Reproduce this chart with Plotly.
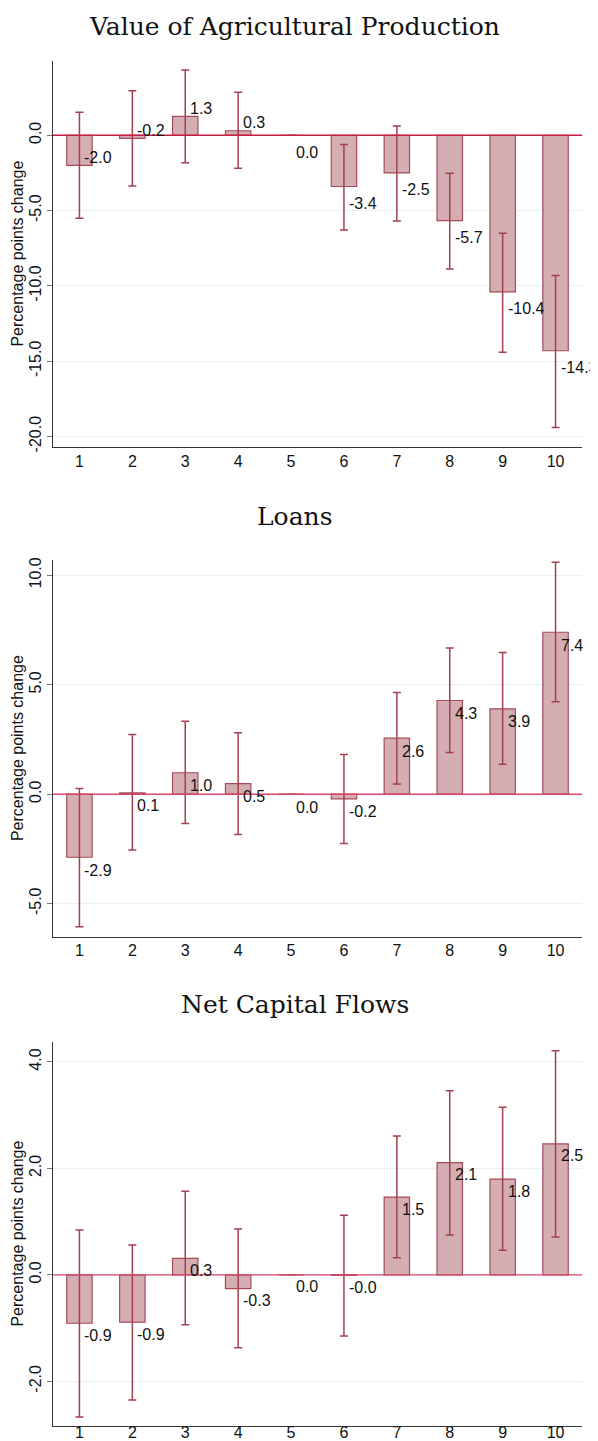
import plotly.graph_objects as go

# ---------------- data ----------------
categories = [1, 2, 3, 4, 5, 6, 7, 8, 9, 10]

agri_values = [-2.0, -0.2, 1.26, 0.3, 0.0, -3.4, -2.5, -5.66, -10.4, -14.3]
agri_lo = [-5.5, -3.36, -1.82, -2.19, None, -6.28, -5.69, -8.87, -14.4, -19.4]
agri_hi = [1.53, 2.96, 4.33, 2.85, None, -0.62, 0.62, -2.52, -6.5, -9.31]

loans_values = [-2.88, 0.06, 0.98, 0.48, 0.0, -0.21, 2.56, 4.28, 3.9, 7.4]
loans_lo = [-6.06, -2.55, -1.34, -1.84, None, -2.25, 0.47, 1.91, 1.37, 4.22]
loans_hi = [0.26, 2.73, 3.33, 2.81, None, 1.81, 4.65, 6.68, 6.47, 10.6]

ncf_values = [-0.91, -0.89, 0.31, -0.26, 0.0, -0.01, 1.46, 2.11, 1.8, 2.46]
ncf_lo = [-2.67, -2.35, -0.94, -1.37, None, -1.15, 0.32, 0.75, 0.46, 0.71]
ncf_hi = [0.84, 0.56, 1.57, 0.86, None, 1.12, 2.61, 3.46, 3.15, 4.21]

agri_ticks = [-20, -15, -10, -5, 0]
loans_ticks = [-5, 0, 5, 10]
ncf_ticks = [-2, 0, 2, 4]

titles = ["Value of Agricultural Production", "Loans", "Net Capital Flows"]
y_title = "Percentage points change"

# ---------------- layout / style ----------------
OFF = 8  # page body margin
W, H = 598 - OFF, 1441 - OFF
PL, PR, PT, PB = 53.3, 582.3, 61, 1426  # plot extents in page pixels
ML, MR, MT, MB = PL - OFF, W - (PR - OFF), PT - OFF, H - (PB - OFF)
plot_h = H - MT - MB
plot_w = W - ML - MR


def py(px):
    return (H - MB - (px - OFF)) / plot_h


def pxx(px):
    return ((px - OFF) - ML) / plot_w


BAR_FILL = "#d4aeb2"
BAR_LINE = "#a54b57"
ERR_COLOR = "#a3404e"
GRID = "#e9eff1"
AXIS = "#333333"
SANS = "Liberation Sans"
SERIF = "DejaVu Serif"

panels = [
    dict(title=titles[0], v=agri_values, lo=agri_lo, hi=agri_hi, ticks=agri_ticks,
         yr=[-20.67, 4.93], top=61, bot=446.7, tpx=26, zc="#c81d42", xstand=0,
         shifts=[8, 8, 8, 8, -17, -17, -17, -17, -17, -17]),
    dict(title=titles[1], v=loans_values, lo=loans_lo, hi=loans_hi, ticks=loans_ticks,
         yr=[-6.51, 10.7], top=560, bot=936.7, tpx=516, zc="#d8476a", xstand=-1,
         shifts=[-13] * 10),
    dict(title=titles[2], v=ncf_values, lo=ncf_lo, hi=ncf_hi, ticks=ncf_ticks,
         yr=[-2.84, 4.38], top=1041.7, bot=1426, tpx=1004, zc="#d8476a", xstand=-8,
         shifts=[-12] * 10),
]

fig = go.Figure()
annotations = []
shapes = []

for i, p in enumerate(panels):
    n = "" if i == 0 else str(i + 1)
    xa, ya = "x" + n, "y" + n
    plus = [(h - v) if h is not None else float("nan") for v, h in zip(p["v"], p["hi"])]
    minus = [(v - l) if l is not None else float("nan") for v, l in zip(p["v"], p["lo"])]
    fig.add_trace(go.Bar(
        x=categories, y=p["v"], width=0.48, xaxis=xa, yaxis=ya,
        marker=dict(color=BAR_FILL, line=dict(color=BAR_LINE, width=1.2)),
        error_y=dict(type="data", symmetric=False, array=plus, arrayminus=minus,
                     color=ERR_COLOR, thickness=1.5, width=4),
        showlegend=False, hoverinfo="skip",
    ))
    dom = [py(p["bot"]), py(p["top"])]
    fig.layout["xaxis" + n] = dict(
        domain=[0, 1], anchor=ya, range=[0.5, 10.5], tickvals=categories,
        ticktext=[str(c) for c in categories], showgrid=False, zeroline=False,
        showline=True, linecolor=AXIS, linewidth=1.2, ticks="", automargin=False,
        ticklabelstandoff=p["xstand"],
        tickfont=dict(family=SANS, size=16, color="#111111"), fixedrange=True,
    )
    fig.layout["yaxis" + n] = dict(
        domain=dom, anchor=xa, range=p["yr"], tickvals=p["ticks"],
        ticktext=[f"{t:.1f}" for t in p["ticks"]], tickangle=-90,
        showgrid=True, gridcolor=GRID, gridwidth=1, zeroline=False,
        showline=True, linecolor=AXIS, linewidth=1.2, ticks="outside",
        ticklen=5, tickcolor="#777777", automargin=False,
        tickfont=dict(family=SANS, size=16, color="#111111"),
        fixedrange=True,
    )
    shapes.append(dict(type="line", xref=xa + " domain", yref=ya, x0=0, x1=1,
                       y0=0, y1=0, line=dict(color=p["zc"], width=1.4), layer="above"))
    annotations.append(dict(text=p["title"], xref="paper", yref="paper",
                            x=pxx(295), y=py(p["tpx"]), xanchor="center", yanchor="middle",
                            showarrow=False, font=dict(family=SERIF, size=25, color="#111111")))
    annotations.append(dict(text=y_title, xref="paper", yref="paper",
                            x=pxx(18), y=py((p["top"] + p["bot"]) / 2), textangle=-90,
                            xanchor="center", yanchor="middle", showarrow=False,
                            font=dict(family=SANS, size=16, color="#111111")))
    for c, v, s in zip(categories, p["v"], p["shifts"]):
        annotations.append(dict(text=f"{v:.1f}", x=c, y=v, xref=xa, yref=ya,
                                xanchor="left", yanchor="middle", xshift=3, yshift=s,
                                showarrow=False,
                                font=dict(family=SANS, size=16, color="#111111")))

fig.update_layout(
    width=W, height=H, margin=dict(l=ML, r=MR, t=MT, b=MB, autoexpand=False),
    paper_bgcolor="white", plot_bgcolor="white",
    annotations=annotations, shapes=shapes, bargap=0.5,
)

fig.write_html("out.html")
